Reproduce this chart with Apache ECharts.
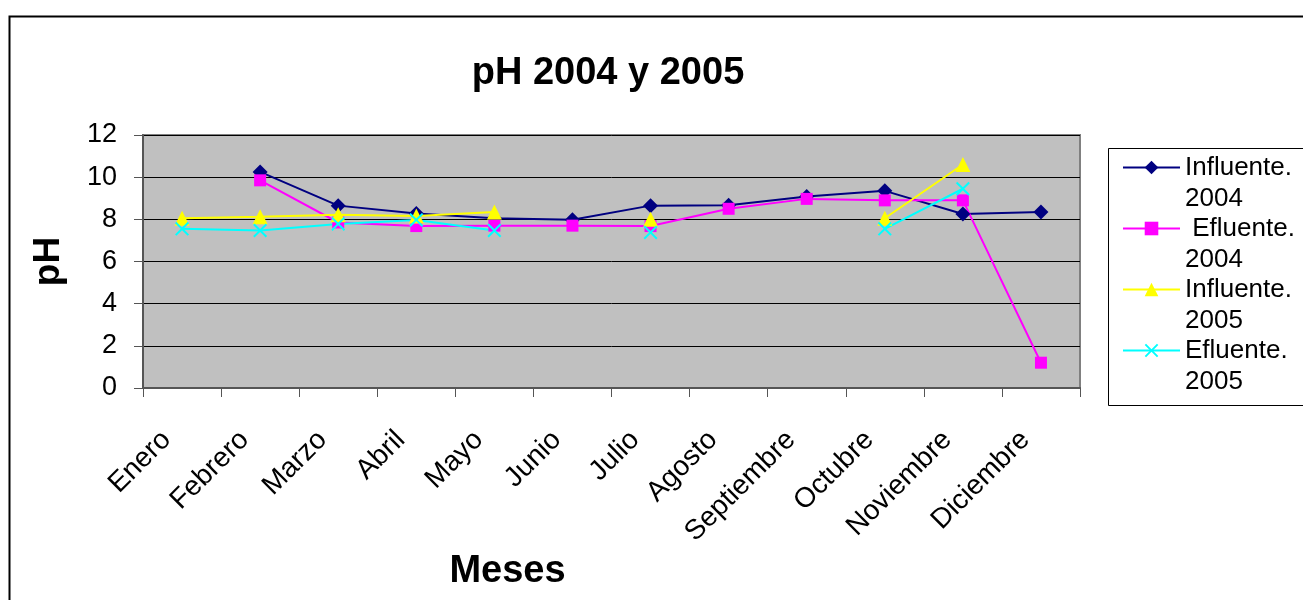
<!DOCTYPE html>
<html>
<head>
<meta charset="utf-8">
<script src="https://cdn.jsdelivr.net/npm/echarts@6/dist/echarts.min.js"></script>
<style>
  html, body { margin: 0; padding: 0; background: #fff; }
  #chart { width: 1303px; height: 600px; }
</style>
</head>
<body>
<div id="chart"></div>
<script>
const months = ["Enero", "Febrero", "Marzo", "Abril", "Mayo", "Junio", "Julio",
  "Agosto", "Septiembre", "Octubre", "Noviembre", "Diciembre"];
const yTicks = [0, 2, 4, 6, 8, 10, 12];

const influente2004 = [null, 10.25, 8.65, 8.28, 8.05, 7.98, 8.65, 8.67, 9.08, 9.35, 8.25, 8.35];
const efluente2004 = [null, 9.85, 7.85, 7.68, 7.7, 7.7, 7.68, 8.5, 8.97, 8.9, 8.9, 1.2];
const influente2005 = [8.05, 8.12, 8.22, 8.16, 8.35, null, 8.0, null, null, 8.05, 10.6, null];
const efluente2005 = [7.55, 7.47, 7.78, 7.97, 7.47, null, 7.38, null, null, 7.55, 9.45, null];

const FONT = "Liberation Sans, Arial, sans-serif";
// filled X shape for the efluente 2005 markers
const crossIcon = "path://M0,1L1,0L5,4L9,0L10,1L6,5L10,9L9,10L5,6L1,10L0,9L4,5Z";

const chart = echarts.init(document.getElementById("chart"));

const lineSeries = (name, data, color, symbol, size) => ({
  name,
  type: "line",
  data,
  symbol,
  symbolSize: size,
  showSymbol: true,
  connectNulls: false,
  lineStyle: { color, width: 2 },
  itemStyle: { color },
  emphasis: { disabled: true },
});

chart.setOption({
  animation: false,
  textStyle: { fontFamily: FONT },
  title: {
    text: "pH 2004 y 2005",
    left: 603,
    top: 50,
    textAlign: "center",
    textStyle: { fontFamily: FONT, fontSize: 38, fontWeight: "bold", color: "#000" },
  },
  graphic: [
    {
      type: "rect",
      left: 7, top: 14,
      shape: { width: 1400, height: 700 },
      style: { fill: "none", stroke: "#000", lineWidth: 2 },
      silent: true,
      z: 0,
    },
    {
      type: "rect",
      left: 1108, top: 148,
      shape: { width: 200, height: 257 },
      style: { fill: "#fff", stroke: "#000", lineWidth: 1 },
      silent: true,
      z: 0,
    },
  ],
  legend: {
    orient: "vertical",
    left: 1122,
    top: 121,
    padding: 0,
    itemGap: -32,
    itemWidth: 57,
    itemHeight: 17,
    selectedMode: false,
    data: ["Influente. 2004", "Efluente. 2004", "Influente. 2005", "Efluente. 2005"],
    // empty first line so the marker lines up with the first text line
    formatter: (name) => {
      const parts = name.split(" ");
      const lead = name === "Efluente. 2004" ? " " : "";
      return "\n" + lead + parts[0] + "\n" + parts[1];
    },
    textStyle: {
      fontFamily: FONT,
      fontSize: 26,
      lineHeight: 31,
      color: "#000",
    },
  },
  grid: { left: 143, right: 223, top: 135, bottom: 212, show: true,
    backgroundColor: "#c0c0c0", borderColor: "#808080", borderWidth: 2 },
  xAxis: {
    type: "category",
    data: months,
    name: "Meses",
    nameLocation: "middle",
    nameGap: 165,
    nameTextStyle: { fontFamily: FONT, fontSize: 38, fontWeight: "bold", color: "#000",
      padding: [0, 208, 0, 0] },
    axisLine: { lineStyle: { color: "#555", width: 2 } },
    axisTick: { show: true, length: 9, lineStyle: { color: "#555", width: 1 } },
    axisLabel: { rotate: 45, fontSize: 28, color: "#000", margin: 32, interval: 0,
      fontFamily: FONT, padding: [0, 22, 0, 0] },
    splitLine: { show: false },
  },
  yAxis: {
    type: "value",
    min: 0,
    max: 12,
    interval: 2,
    name: "pH",
    nameLocation: "middle",
    nameGap: 76,
    nameTextStyle: { fontFamily: FONT, fontSize: 37, fontWeight: "bold", color: "#000" },
    axisLine: { show: true, lineStyle: { color: "#555", width: 2 } },
    axisTick: { show: true, length: 9, lineStyle: { color: "#555", width: 1 } },
    axisLabel: {
      fontSize: 27, color: "#000", margin: 26, fontFamily: FONT,
      formatter: (v) => (yTicks.includes(v) ? String(v) : ""),
    },
    splitLine: { show: true, lineStyle: { color: "#000", width: 1 } },
  },
  series: [
    lineSeries("Influente. 2004", influente2004, "#000080", "diamond", 15),
    lineSeries("Efluente. 2004", efluente2004, "#ff00ff", "rect", 12),
    lineSeries("Influente. 2005", influente2005, "#ffff00", "triangle", 15),
    lineSeries("Efluente. 2005", efluente2005, "#00ffff", crossIcon, 14),
  ],
});
</script>
</body>
</html>
